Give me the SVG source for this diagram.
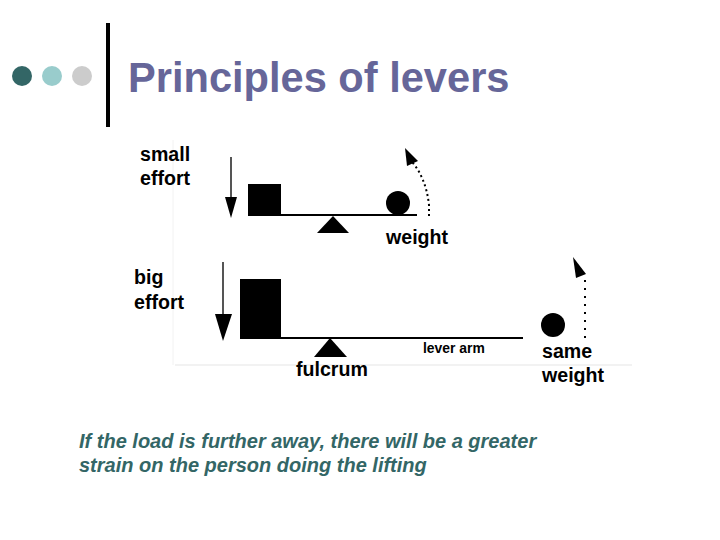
<svg xmlns="http://www.w3.org/2000/svg" width="720" height="540" viewBox="0 0 720 540">
<defs>
<style>
.lbl{font-family:"Liberation Sans",Arial,sans-serif;font-weight:bold;fill:#000}
.big{font-size:19.6px}
.title{font-family:"Liberation Sans",Arial,sans-serif;font-weight:bold;font-size:41.6px;fill:#666699}
.cap{font-family:"Liberation Sans",Arial,sans-serif;font-weight:bold;font-style:italic;font-size:20px;fill:#336666}
.lever{stroke:#000;stroke-width:2}
.effort{stroke:#555;stroke-width:2}
.mark{fill:#000}
.dot{stroke:#000;stroke-width:2;stroke-dasharray:2 3;fill:none}
.dash{stroke:#000;stroke-width:2;stroke-dasharray:2 6;fill:none}
</style>
</defs>
<rect width="720" height="540" fill="#fff"/>
<g id="header">
<circle cx="22" cy="76" r="10" fill="#336666"/>
<circle cx="52" cy="76" r="10" fill="#99cccc"/>
<circle cx="82" cy="76" r="10" fill="#cccccc"/>
<rect x="106" y="23" width="4" height="104" fill="#000"/>
<text class="title" x="128" y="92">Principles of levers</text>
</g>
<g id="frame">
<line x1="173" y1="140" x2="173" y2="365" stroke="#f2f2f2" stroke-width="1"/>
<line x1="175" y1="365" x2="632" y2="365" stroke="#eeeeee" stroke-width="1.5"/>
</g>
<g id="small-lever">
<text class="lbl big" x="140" y="161">small</text>
<text class="lbl big" x="140" y="185">effort</text>
<line class="effort" x1="231" y1="157" x2="231" y2="200"/>
<polygon class="mark" points="225,197 237,197 231,218"/>
<rect class="mark" x="248" y="184" width="33" height="32"/>
<line class="lever" x1="248" y1="215" x2="417" y2="215"/>
<polygon class="mark" points="333,216 317,233 349,233"/>
<circle class="mark" cx="398" cy="203" r="12"/>
<path class="dot" d="M429,216 L429,205 Q426,178 412,162"/>
<polygon class="mark" points="405,148 418,161 407,166"/>
<text class="lbl big" x="386" y="244">weight</text>
</g>
<g id="big-lever">
<text class="lbl big" x="134" y="284">big</text>
<text class="lbl big" x="134" y="309">effort</text>
<line class="effort" x1="223" y1="262" x2="223" y2="318"/>
<polygon class="mark" points="215,314 232,314 223,341"/>
<rect class="mark" x="240" y="279" width="41" height="59"/>
<line class="lever" x1="240" y1="338" x2="523" y2="338"/>
<polygon class="mark" points="330,338 314,357 347,357"/>
<text class="lbl" style="font-size:13.9px" x="423" y="353">lever arm</text>
<text class="lbl big" x="296" y="376">fulcrum</text>
<circle class="mark" cx="553" cy="325" r="12"/>
<path class="dash" d="M585,338 L585,278"/>
<polygon class="mark" points="573,257 586,274 576,278"/>
<text class="lbl big" x="542" y="358">same</text>
<text class="lbl big" x="542" y="382">weight</text>
</g>
<g id="caption">
<text class="cap" x="79" y="448">If the load is further away, there will be a greater</text>
<text class="cap" x="79" y="472">strain on the person doing the lifting</text>
</g>
</svg>
